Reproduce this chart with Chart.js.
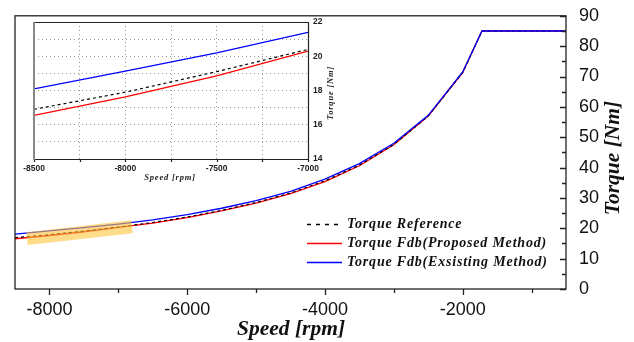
<!DOCTYPE html>
<html>
<head>
<meta charset="utf-8">
<script src="https://cdn.jsdelivr.net/npm/chart.js@4.4.1/dist/chart.umd.min.js"></script>
<style>
  body { margin: 0; background: #fff; }
  #wrap { position: relative; width: 634px; height: 342px; }
  #inset { position: absolute; left: 0; top: 0; pointer-events: none; }
</style>
</head>
<body>
<div id="wrap">
  <canvas id="main" width="634" height="342"></canvas>
  <canvas id="inset" width="345" height="190"></canvas>
</div>
<script>
// speed points (rpm)
const speed = [-8500, -8000, -7500, -7000, -6500, -6000, -5500, -5000, -4500, -4000, -3500, -3000, -2500, -2000, -1720, -500];
// torque values (Nm)
const torqueRef = [16.9, 17.9, 19.1, 20.4, 21.9, 23.7, 25.9, 28.5, 31.6, 35.6, 40.8, 47.6, 57.0, 71.3, 85, 85];
const torqueProposed = [16.55, 17.63, 18.86, 20.3, 21.7, 23.5, 25.7, 28.3, 31.4, 35.4, 40.6, 47.5, 57.0, 71.3, 85, 85];
const torqueExisting = [18.1, 19.13, 20.2, 21.4, 22.8, 24.5, 26.6, 29.1, 32.2, 36.2, 41.3, 48.0, 57.2, 71.5, 85, 85];
// highlighted zoom region
const highlightSpeed = [-8326, -6800];
const highlightTorque = [16.6, 20.5];

const seriesLabels = ['Torque Reference', 'Torque Fdb(Proposed Method)', 'Torque Fdb(Exsisting Method)'];
const mainXTicks = [-8000, -7000, -6000, -5000, -4000, -3000, -2000, -1000];
const mainYTicks = [0, 5, 10, 15, 20, 25, 30, 35, 40, 45, 50, 55, 60, 65, 70, 75, 80, 85, 90];
const insetXTicks = [-8500, -8250, -8000, -7750, -7500, -7250, -7000];
const insetYTicks = [14, 15, 16, 17, 18, 19, 20, 21, 22];

function pts(xs, ys) {
  return xs.map((x, i) => ({x: x, y: ys[i]}));
}

function makeDatasets(withHighlight) {
  let ds = [
    {label: seriesLabels[0], data: pts(speed, torqueRef), borderColor: '#000', borderWidth: 1.2, borderDash: [3, 3], order: 2},
    {label: seriesLabels[1], data: pts(speed, torqueProposed), borderColor: 'rgb(255,0,0)', borderWidth: 1.3, order: 3},
    {label: seriesLabels[2], data: pts(speed, torqueExisting), borderColor: 'rgb(0,0,255)', borderWidth: 1.3, order: 1}
  ];
  if (withHighlight) {
    // translucent band drawn over the curves
    ds.push({label: 'zoom', data: pts(highlightSpeed, highlightTorque), borderColor: 'rgba(255,196,60,0.6)',
      borderWidth: 13, borderCapStyle: 'butt', order: 0});
  }
  ds.forEach(d => { d.pointRadius = 0; d.fill = false; d.tension = 0; });
  return ds;
}

const serif = '"Liberation Serif", "Times New Roman", serif';
const sans = '"Liberation Sans", Arial, sans-serif';

// frame, ticks, axis titles and legend for the main chart
const mainDecor = {
  id: 'mainDecor',
  afterDraw(chart) {
    const ctx = chart.ctx, a = chart.chartArea;
    const xs = chart.scales.x, ys = chart.scales.y;
    ctx.save();
    ctx.strokeStyle = '#222';
    ctx.lineWidth = 1.3;
    ctx.strokeRect(a.left, a.top, a.right - a.left, a.bottom - a.top);
    ctx.beginPath();
    xs.ticks.forEach(t => {
      const px = Math.round(xs.getPixelForValue(t.value)) + 0.5;
      const len = t.value % 2000 === 0 ? 6 : 4;
      ctx.moveTo(px, a.bottom);
      ctx.lineTo(px, a.bottom + len);
    });
    ys.ticks.forEach(t => {
      const py = Math.round(ys.getPixelForValue(t.value)) + 0.5;
      const len = t.value % 10 === 0 ? 6 : 4;
      ctx.moveTo(a.right, py);
      ctx.lineTo(a.right - len, py);
    });
    ctx.stroke();

    // axis titles
    ctx.fillStyle = '#111';
    ctx.font = 'italic bold 21.5px ' + serif;
    ctx.textAlign = 'center';
    ctx.textBaseline = 'middle';
    ctx.fillText('Speed [rpm]', 291, 329);
    ctx.translate(613, 158);
    ctx.rotate(-Math.PI / 2);
    ctx.fillText('Torque [Nm]', 0, 0);
    ctx.restore();

    // legend
    ctx.save();
    const rows = [224, 243, 262];
    ctx.font = 'italic bold 14px ' + serif;
    ctx.textAlign = 'left';
    ctx.textBaseline = 'middle';
    ctx.letterSpacing = '0.8px';
    chart.data.datasets.slice(0, 3).forEach((d, i) => {
      ctx.beginPath();
      ctx.strokeStyle = d.borderColor;
      ctx.lineWidth = 1.3;
      ctx.setLineDash(i === 0 ? [4, 5] : []);
      ctx.moveTo(307, rows[i] + 0.5);
      ctx.lineTo(342, rows[i] + 0.5);
      ctx.stroke();
      ctx.fillStyle = '#111';
      ctx.fillText(d.label, 347, rows[i]);
    });
    ctx.restore();
  }
};

// frame, ticks, titles for the inset
const insetDecor = {
  id: 'insetDecor',
  afterDraw(chart) {
    const ctx = chart.ctx, a = chart.chartArea;
    const xs = chart.scales.x;
    ctx.save();
    ctx.strokeStyle = '#222';
    ctx.lineWidth = 1.2;
    ctx.beginPath();
    ctx.moveTo(a.left, a.top + 0.5);
    ctx.lineTo(a.right + 0.5, a.top + 0.5);
    ctx.lineTo(a.right + 0.5, a.bottom + 0.5);
    ctx.lineTo(a.left, a.bottom + 0.5);
    xs.ticks.forEach(t => {
      const px = Math.round(xs.getPixelForValue(t.value)) + 0.5;
      ctx.moveTo(px, a.bottom);
      ctx.lineTo(px, a.bottom + 3);
    });
    ctx.stroke();
    ctx.strokeStyle = '#888';
    ctx.lineWidth = 2;
    ctx.beginPath();
    ctx.moveTo(a.left, a.top);
    ctx.lineTo(a.left, a.bottom + 1);
    ctx.stroke();

    ctx.fillStyle = '#222';
    ctx.font = 'italic bold 8.5px ' + serif;
    ctx.letterSpacing = '0.8px';
    ctx.textAlign = 'center';
    ctx.textBaseline = 'middle';
    ctx.fillText('Speed [rpm]', 170, 178);
    ctx.translate(331, 93);
    ctx.rotate(-Math.PI / 2);
    ctx.fillText('Torque [Nm]', 0, 0);
    ctx.restore();
  }
};

new Chart(document.getElementById('main'), {
  type: 'line',
  data: {datasets: makeDatasets(true)},
  options: {
    responsive: false,
    devicePixelRatio: 1,
    animation: false,
    layout: {padding: {left: 15, top: 13, right: 0, bottom: 0}},
    plugins: {legend: {display: false}, tooltip: {enabled: false}},
    scales: {
      x: {
        type: 'linear', min: -8500, max: -500,
        afterBuildTicks: s => { s.ticks = mainXTicks.map(v => ({value: v})); },
        afterFit: s => { s.height = 53; },
        grid: {display: false}, border: {display: false},
        ticks: {
          autoSkip: false, maxRotation: 0, padding: 2, color: '#111',
          font: {family: sans, size: 18},
          callback: v => (v % 2000 === 0 ? v : '')
        }
      },
      y: {
        type: 'linear', position: 'right', min: 0, max: 90,
        afterBuildTicks: s => { s.ticks = mainYTicks.map(v => ({value: v})); },
        afterFit: s => { s.width = 68; },
        grid: {display: false}, border: {display: false},
        ticks: {
          autoSkip: false, padding: 5, color: '#111',
          font: {family: sans, size: 18},
          callback: v => (v % 10 === 0 ? v : '')
        }
      }
    }
  },
  plugins: [mainDecor]
});

new Chart(document.getElementById('inset'), {
  type: 'line',
  data: {datasets: makeDatasets(false)},
  options: {
    responsive: false,
    devicePixelRatio: 1,
    animation: false,
    layout: {padding: {left: 34, top: 22, right: 0, bottom: 0}},
    plugins: {legend: {display: false}, tooltip: {enabled: false}},
    scales: {
      x: {
        type: 'linear', min: -8500, max: -7000,
        afterBuildTicks: s => { s.ticks = insetXTicks.map(v => ({value: v})); },
        afterFit: s => { s.height = 31; },
        grid: {color: '#999', lineWidth: 1, drawTicks: false},
        border: {display: false, dash: [1, 3]},
        ticks: {
          autoSkip: false, maxRotation: 0, padding: 5, color: '#222',
          font: {family: sans, size: 8.5, weight: 'bold'},
          callback: v => (v % 500 === 0 ? v : '')
        }
      },
      y: {
        type: 'linear', position: 'right', min: 14, max: 22,
        afterBuildTicks: s => { s.ticks = insetYTicks.map(v => ({value: v})); },
        afterFit: s => { s.width = 37; },
        grid: {color: '#999', lineWidth: 1, drawTicks: false},
        border: {display: false, dash: [1, 3]},
        ticks: {
          autoSkip: false, padding: 5, color: '#222',
          font: {family: sans, size: 8.5, weight: 'bold'},
          callback: v => (v % 2 === 0 ? v : '')
        }
      }
    }
  },
  plugins: [insetDecor]
});
</script>
</body>
</html>
